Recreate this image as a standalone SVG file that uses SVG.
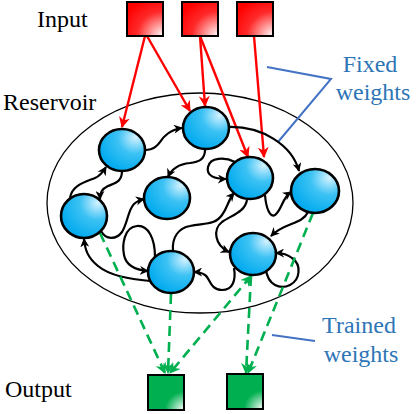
<svg xmlns="http://www.w3.org/2000/svg" width="416" height="414" viewBox="0 0 416 414">
<defs>
<radialGradient id="gBlue" cx="0.78" cy="0.22" r="0.85" fx="0.8" fy="0.2">
<stop offset="0" stop-color="#d4f2ff"/>
<stop offset="0.45" stop-color="#3cc2f4"/>
<stop offset="1" stop-color="#00aaee"/>
</radialGradient>
<radialGradient id="gRed" cx="1" cy="1" r="1.2" fx="1" fy="1">
<stop offset="0" stop-color="#ffffff"/>
<stop offset="0.6" stop-color="#ff2a2a"/>
<stop offset="1" stop-color="#ff0000"/>
</radialGradient>
<radialGradient id="gGreen" cx="1" cy="1" r="0.75" fx="1" fy="1">
<stop offset="0" stop-color="#ffffff"/>
<stop offset="0.7" stop-color="#00b050"/>
<stop offset="1" stop-color="#00b050"/>
</radialGradient>
<marker id="mBlack" viewBox="0 0 10 10" refX="9" refY="5" markerWidth="9" markerHeight="9" markerUnits="userSpaceOnUse" orient="auto">
<path d="M0,0 L10,5 L0,10 L3,5 Z" fill="#000"/>
</marker>
<marker id="mRed" viewBox="0 0 10 10" refX="9" refY="5" markerWidth="11" markerHeight="11" markerUnits="userSpaceOnUse" orient="auto">
<path d="M0,0 L10,5 L0,10 L3,5 Z" fill="#ff0000"/>
</marker>
<marker id="mGreen" viewBox="0 0 10 10" refX="9" refY="5" markerWidth="11" markerHeight="11" markerUnits="userSpaceOnUse" orient="auto-start-reverse">
<path d="M0,0 L10,5 L0,10 L3,5 Z" fill="#00b050"/>
</marker>
</defs>
<style>
.lbl{font-size:24px;fill:#000}
.blu{font-size:24px;fill:#2e75b6}
.node{fill:url(#gBlue);stroke:#000;stroke-width:2.6}
.in{fill:url(#gRed);stroke:#000;stroke-width:2}
.out{fill:url(#gGreen);stroke:#000;stroke-width:2}
.blk{fill:none;stroke:#000;stroke-width:2.2;marker-end:url(#mBlack)}
.red{fill:none;stroke:#ff0000;stroke-width:2.4;marker-end:url(#mRed)}
.grn{fill:none;stroke:#00b050;stroke-width:2.6;stroke-dasharray:10 6;marker-end:url(#mGreen)}
.call{fill:none;stroke:#4472c4;stroke-width:2}
</style>
<rect width="416" height="414" fill="#fff"/>
<ellipse id="reservoir" cx="200" cy="203" rx="153" ry="110" fill="none" stroke="#000" stroke-width="1.3"/>
<g font-family="'Liberation Serif', 'DejaVu Serif', serif">
<text class="lbl" x="37" y="27">Input</text>
<text class="lbl" x="3" y="110">Reservoir</text>
<text class="lbl" x="5" y="397">Output</text>
<text class="blu" x="370" y="72" text-anchor="middle">Fixed</text>
<text class="blu" x="373" y="100" text-anchor="middle">weights</text>
<text class="blu" x="359" y="333" text-anchor="middle">Trained</text>
<text class="blu" x="361" y="362" text-anchor="middle">weights</text>
</g>
<polyline class="call" points="267,67 331,79 278,142"/>
<line class="call" x1="272" y1="335" x2="315" y2="341"/>
<g id="connectors">
<path class="red" d="M145,36 L122,127"/>
<path class="red" d="M147,36 L190,111"/>
<path class="red" d="M200,36 L205,106"/>
<path class="red" d="M200,36 L248,157"/>
<path class="red" d="M254,36 L264,157"/>
<path class="blk" d="M145,150 C158,150 160,140 165,136 C170,131 175,129 182,128"/>
<path class="blk" d="M122,171 C122,182 115,183 108,186 C102,189 100,192 100,199"/>
<path class="blk" d="M70,198 C72,185 85,182 95,178 C100,176 103,172 106,167"/>
<path class="blk" d="M205,150 C205,160 198,162 190,163 C180,164 172,168 168,177"/>
<path class="blk" d="M228,127 C262,126 292,145 299,171"/>
<path class="blk" d="M235,162 C225,157 210,157 208,167 C206,176 215,179 226,179"/>
<path class="blk" d="M101,231 C106,240 116,240 122,232 C128,222 128,210 134,204 C137,201 140,200 144,199"/>
<path class="blk" d="M155,257 C155,238 148,225 137,226 C124,227 122,245 124,255 C126,265 135,270 148,271"/>
<path class="blk" d="M150,281 C130,279 110,276 98,266 C88,258 85,250 84,239"/>
<path class="blk" d="M173,250 C172,238 178,228 190,226 C205,223 215,225 222,215 C228,207 228,200 234,193"/>
<path class="blk" d="M247,200 C245,212 232,215 222,222 C213,229 214,245 229,252"/>
<path class="blk" d="M265,195 C266,208 270,218 275,215 C282,210 282,198 291,192"/>
<path class="blk" d="M308,212 C302,225 285,222 271,236"/>
<path class="blk" d="M266,270 C268,285 280,290 290,285 C300,280 302,265 292,258 C287,254 282,253 276,253"/>
<path class="blk" d="M234,268 C236,280 233,290 222,290 C210,290 210,278 205,275 C202,273 198,272 194,272"/>
<path class="grn" d="M100,233 L165,373"/>
<path class="grn" d="M171,294 L168,373"/>
<path class="grn" d="M251,276 L170,373" marker-start="url(#mGreen)"/>
<path class="grn" d="M251,276 L246,373"/>
<path class="grn" d="M313,213 L248,373"/>
</g>
<g id="in1"><rect class="in" x="127" y="2" width="36" height="34"/></g>
<g id="in2"><rect class="in" x="182" y="2" width="36" height="34"/></g>
<g id="in3"><rect class="in" x="237" y="2" width="36" height="34"/></g>
<g id="nA"><ellipse class="node" cx="122" cy="150" rx="23" ry="21"/></g>
<g id="nB"><ellipse class="node" cx="206" cy="128" rx="23" ry="21"/></g>
<g id="nC"><ellipse class="node" cx="167" cy="198" rx="23" ry="21"/></g>
<g id="nD"><ellipse class="node" cx="250" cy="178" rx="23" ry="21"/></g>
<g id="nE"><ellipse class="node" cx="315" cy="191" rx="24" ry="22"/></g>
<g id="nF"><ellipse class="node" cx="84" cy="216" rx="23" ry="22"/></g>
<g id="nG"><ellipse class="node" cx="171" cy="272" rx="23" ry="21"/></g>
<g id="nH"><ellipse class="node" cx="253" cy="254" rx="23" ry="21"/></g>
<g id="out1"><rect class="out" x="148" y="375" width="36" height="35"/></g>
<g id="out2"><rect class="out" x="227" y="374" width="36" height="35"/></g>
</svg>
